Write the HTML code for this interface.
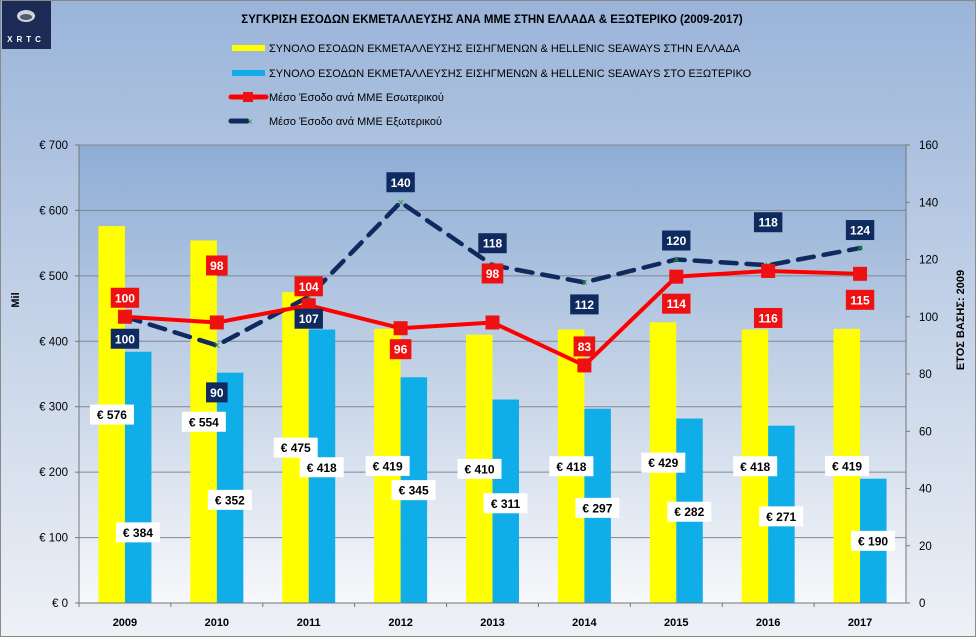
<!DOCTYPE html>
<html><head><meta charset="utf-8"><style>
html,body{margin:0;padding:0;}
body{width:976px;height:637px;overflow:hidden;font-family:"Liberation Sans","DejaVu Sans",sans-serif;}
</style></head><body>
<svg id="chart" width="976" height="637" xmlns="http://www.w3.org/2000/svg" font-family="Liberation Sans, DejaVu Sans, sans-serif">
<defs>
<linearGradient id="bg" x1="0" y1="0" x2="0" y2="1"><stop offset="0" stop-color="#9ab4d9"/><stop offset="1" stop-color="#eef1f6"/></linearGradient>
<linearGradient id="pbg" x1="0" y1="0" x2="0" y2="1"><stop offset="0" stop-color="#8eadd5"/><stop offset="0.55" stop-color="#c9d6e8"/><stop offset="1" stop-color="#f7f8fb"/></linearGradient>
</defs>
<rect x="0.5" y="0.5" width="975" height="636" fill="url(#bg)" stroke="#8a8a8a"/>
<rect x="79" y="145" width="827" height="458" fill="url(#pbg)"/>
<g>
<rect x="2" y="1" width="49" height="48" fill="#1c2b55"/>
<ellipse cx="26" cy="16" rx="9" ry="6" fill="#d0d4dc"/>
<ellipse cx="26" cy="17" rx="6" ry="3" fill="#555c6a"/>
<text x="26" y="42" font-size="8" font-weight="bold" fill="#fff" text-anchor="middle" letter-spacing="4">XRTC</text>
</g>
<text x="492" y="23" font-size="11.5" font-weight="bold" text-anchor="middle">ΣΥΓΚΡΙΣΗ ΕΣΟΔΩΝ ΕΚΜΕΤΑΛΛΕΥΣΗΣ ΑΝΑ ΜΜΕ ΣΤΗΝ ΕΛΛΑΔΑ &amp; ΕΞΩΤΕΡΙΚΟ (2009-2017)</text>
<g font-size="11">
<g><rect x="232" y="45" width="33" height="6" fill="#ffff00"/><text x="269" y="52">ΣΥΝΟΛΟ ΕΣΟΔΩΝ ΕΚΜΕΤΑΛΛΕΥΣΗΣ ΕΙΣΗΓΜΕΝΩΝ &amp; HELLENIC SEAWAYS ΣΤΗΝ ΕΛΛΑΔΑ</text></g>
<g><rect x="232" y="70" width="33" height="6" fill="#10aee8"/><text x="269" y="77">ΣΥΝΟΛΟ ΕΣΟΔΩΝ ΕΚΜΕΤΑΛΛΕΥΣΗΣ ΕΙΣΗΓΜΕΝΩΝ &amp; HELLENIC SEAWAYS ΣΤΟ ΕΞΩΤΕΡΙΚΟ</text></g>
<g><line x1="231" y1="97" x2="266" y2="97" stroke="#ff0000" stroke-width="5" stroke-linecap="round"/><rect x="243" y="92" width="10" height="10" fill="#ee1111"/><text x="269" y="101">Μέσο Έσοδο ανά ΜΜΕ Εσωτερικού</text></g>
<g><line x1="231" y1="121" x2="247" y2="121" stroke="#0e2a5e" stroke-width="5" stroke-linecap="round"/><text x="247" y="125" font-size="10" fill="#2a9a2a">×</text><text x="269" y="125">Μέσο Έσοδο ανά ΜΜΕ Εξωτερικού</text></g>
</g>
<g id="grid"></g><g id="bars"></g><g id="lines"></g><g id="labels"></g><g id="axes"></g>
<text transform="translate(19,300) rotate(-90)" font-size="11" font-weight="bold" text-anchor="middle">Mil</text>
<text transform="translate(964,320) rotate(-90)" font-size="11" font-weight="bold" text-anchor="middle">ΕΤΟΣ ΒΑΣΗΣ:  2009</text>
</svg>
<script>
const years=["2009","2010","2011","2012","2013","2014","2015","2016","2017"];
const greece=[576,554,475,419,410,418,429,418,419];
const abroad=[384,352,418,345,311,297,282,271,190];
const avgDomestic=[100,98,104,96,98,83,114,116,115];
const avgForeign=[100,90,107,140,118,112,120,118,124];
const leftTicks=[0,100,200,300,400,500,600,700];
const rightTicks=[0,20,40,60,80,100,120,140,160];
const domLabelDy=[-19,-57,-19,21,-49,-19,27,47,26];
const forLabelDy=[22,47,22,-20,-22,22,-19,-43,-18];
const abroadLabelDy=[55,12,1,0,2,2,1,2,0];
const NS="http://www.w3.org/2000/svg";
const L=79,R=906,T=145,B=603;
const bw=(R-L)/years.length;
const xC=i=>L+bw*(i+0.5);
const yL=v=>B-(v/700)*(B-T);
const yR=v=>B-(v/160)*(B-T);
function mk(tag,attrs,parent){const e=document.createElementNS(NS,tag);for(const k in attrs)e.setAttribute(k,attrs[k]);parent.appendChild(e);return e;}
const grid=document.getElementById('grid'),bars=document.getElementById('bars'),lines=document.getElementById('lines'),labels=document.getElementById('labels'),axes=document.getElementById('axes');
leftTicks.forEach(v=>{
 if(v>0){const g=mk('line',{x1:L,x2:R,y1:yL(v),y2:yL(v),stroke:'#7f8790','stroke-width':1},grid);
 
 }
 const t=mk('text',{x:68,y:yL(v)+4,'font-size':11.5,'text-anchor':'end'},axes);t.textContent='€ '+v;
 
 
 mk('line',{x1:L-4,x2:L,y1:yL(v),y2:yL(v),stroke:'#777'},axes);
});
rightTicks.forEach(v=>{
 const t=mk('text',{x:919,y:yR(v)+4,'font-size':11.5},axes);t.textContent=v;
 
 
 mk('line',{x1:R,x2:R+4,y1:yR(v),y2:yR(v),stroke:'#777'},axes);
});
mk('line',{x1:L,x2:L,y1:T,y2:B,stroke:'#777'},axes);
mk('line',{x1:R,x2:R,y1:T,y2:B,stroke:'#777'},axes);
mk('line',{x1:L,x2:R,y1:B,y2:B,stroke:'#777'},axes);
years.forEach((y,i)=>{
 mk('line',{x1:L+bw*i,x2:L+bw*i,y1:B,y2:B+4,stroke:'#777'},axes);
 const t=mk('text',{x:xC(i),y:626,'font-size':11,'font-weight':'bold','text-anchor':'middle'},axes);t.textContent=y;
 
 
 const w=26.5;
 const b1=mk('rect',{x:xC(i)-w,y:yL(greece[i]),width:w,height:B-yL(greece[i]),fill:'#ffff00'},bars);
 
 
 const b2=mk('rect',{x:xC(i),y:yL(abroad[i]),width:w,height:B-yL(abroad[i]),fill:'#10aee8'},bars);
 
 
});
function box(x,y,txt,bg,fg,name,padW){
 const g=mk('g',{},labels);
 
 
 const w=txt.length*6.8+padW;
 mk('rect',{x:x-w/2,y:y-10,width:w,height:20,fill:bg},g);
 const t=mk('text',{x:x,y:y+4.5,'font-size':12,'font-weight':'bold','text-anchor':'middle',fill:fg},g);t.textContent=txt;
}
const pf=avgForeign.map((v,i)=>xC(i)+','+yR(v)).join(' ');
const lf=mk('polyline',{points:pf,fill:'none',stroke:'#0e2a5e','stroke-width':4.5,'stroke-dasharray':'16 10','stroke-linecap':'round'},lines);


const pd=avgDomestic.map((v,i)=>xC(i)+','+yR(v)).join(' ');
const ld=mk('polyline',{points:pd,fill:'none',stroke:'#ff0000','stroke-width':4},lines);


avgForeign.forEach((v,i)=>{
 const m=mk('text',{x:xC(i),y:yR(v)+4,'font-size':12,'text-anchor':'middle',fill:'#2a9a2a'},lines);m.textContent='×';
 
 
});
avgDomestic.forEach((v,i)=>{
 const m=mk('rect',{x:xC(i)-7,y:yR(v)-7,width:14,height:14,fill:'#ee1111'},lines);
 
 
});
years.forEach((y,i)=>{
 const mg=(yL(greece[i])+B)/2, ma=(yL(abroad[i])+B)/2;
 box(xC(i)-13,mg,'€ '+greece[i],'#ffffff','#000','label-greece-'+y,10);
 box(xC(i)+13,ma+abroadLabelDy[i],'€ '+abroad[i],'#ffffff','#000','label-abroad-'+y,10);
 box(xC(i),yR(avgDomestic[i])+domLabelDy[i],String(avgDomestic[i]),'#ee1111','#fff','label-avg-domestic-'+y,8);
 box(xC(i),yR(avgForeign[i])+forLabelDy[i],String(avgForeign[i]),'#0e2a5e','#fff','label-avg-foreign-'+y,8);
});
</script>
</body></html>
